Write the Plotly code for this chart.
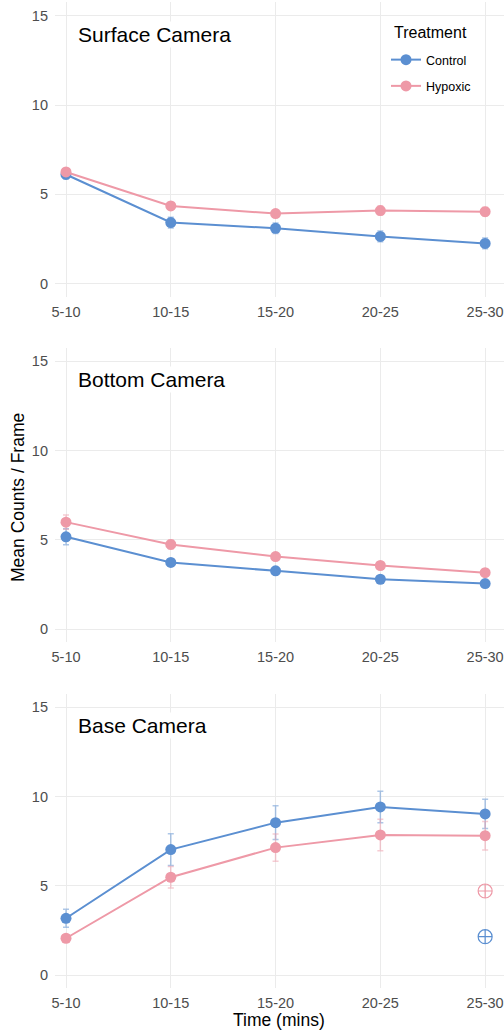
import plotly.graph_objects as go

time_bins = ["5-10", "10-15", "15-20", "20-25", "25-30"]
panels = ["Surface Camera", "Bottom Camera", "Base Camera"]

surface_control = [6.11, 3.42, 3.10, 2.64, 2.25]
surface_control_se = [0.25, 0.3, 0.3, 0.3, 0.3]
surface_hypoxic = [6.25, 4.35, 3.92, 4.09, 4.03]
surface_hypoxic_se = [0.2, 0.2, 0.2, 0.25, 0.25]

bottom_control = [5.17, 3.73, 3.26, 2.79, 2.55]
bottom_control_se = [0.45, 0.2, 0.15, 0.15, 0.15]
bottom_hypoxic = [5.99, 4.74, 4.06, 3.56, 3.16]
bottom_hypoxic_se = [0.4, 0.25, 0.2, 0.2, 0.2]

base_control = [3.18, 7.03, 8.54, 9.42, 9.03]
base_control_se = [0.5, 0.89, 0.95, 0.88, 0.82]
base_hypoxic = [2.06, 5.48, 7.14, 7.85, 7.81]
base_hypoxic_se = [0.15, 0.6, 0.77, 0.88, 0.8]

extra_bin = ["25-30", "25-30"]
extra_values = [2.15, 4.71]

blue = "#5B8FD1"
pink = "#EE99A7"
blue_err = "rgba(91,143,209,0.5)"
pink_err = "rgba(238,153,167,0.5)"

data = [
    (surface_control, surface_control_se, surface_hypoxic, surface_hypoxic_se),
    (bottom_control, bottom_control_se, bottom_hypoxic, bottom_hypoxic_se),
    (base_control, base_control_se, base_hypoxic, base_hypoxic_se),
]

H = 1032.0
W = 449.0
domains = [
    [(H - 297) / H, (H - 2.3) / H],
    [(H - 642.4) / H, (H - 348) / H],
    [(H - 988.4) / H, (H - 694) / H],
]

fig = go.Figure()
font_family = "Liberation Sans, Arial, sans-serif"

for i, (c, cse, h, hse) in enumerate(data):
    xa = "x" if i == 0 else f"x{i+1}"
    ya = "y" if i == 0 else f"y{i+1}"
    fig.add_trace(go.Scatter(
        x=time_bins, y=c, xaxis=xa, yaxis=ya, mode="lines+markers",
        name="Control", legendgroup="Control", showlegend=(i == 0),
        line=dict(color=blue, width=2), marker=dict(color=blue, size=11),
        error_y=dict(type="data", array=cse, color=blue_err, thickness=1.5, width=3),
    ))
    fig.add_trace(go.Scatter(
        x=time_bins, y=h, xaxis=xa, yaxis=ya, mode="lines+markers",
        name="Hypoxic", legendgroup="Hypoxic", showlegend=(i == 0),
        line=dict(color=pink, width=2), marker=dict(color=pink, size=11),
        error_y=dict(type="data", array=hse, color=pink_err, thickness=1.5, width=3),
    ))

fig.add_trace(go.Scatter(
    x=extra_bin, y=extra_values, xaxis="x3", yaxis="y3", mode="markers",
    showlegend=False,
    marker=dict(symbol="circle-cross-open", size=14, color=[blue, pink], line=dict(width=1.2)),
))

axis_common = dict(
    showgrid=True, gridcolor="#EBEBEB", gridwidth=1.2, zeroline=False,
    showline=False, ticks="", tickfont=dict(size=14.5, color="#4D4D4D", family=font_family),
)

layout = dict(
    width=504, height=1032,
    margin=dict(l=55, r=0, t=0, b=0),
    plot_bgcolor="white", paper_bgcolor="white",
    font=dict(family=font_family),
    showlegend=True,
    legend=dict(
        x=(386 - 55) / W, y=(H - 45) / H, xref="paper", yref="paper",
        xanchor="left", yanchor="top", bgcolor="white",
        font=dict(size=12.5, color="black"), tracegroupgap=7,
    ),
)

for i in range(3):
    xk = "xaxis" if i == 0 else f"xaxis{i+1}"
    yk = "yaxis" if i == 0 else f"yaxis{i+1}"
    ya = "y" if i == 0 else f"y{i+1}"
    xa = "x" if i == 0 else f"x{i+1}"
    layout[xk] = dict(axis_common, domain=[0, 1], anchor=ya, type="category",
                      categoryorder="array", categoryarray=time_bins,
                      range=[-0.105, 4.18], ticklabelstandoff=4)
    layout[yk] = dict(axis_common, domain=domains[i], anchor=xa,
                      range=[-0.75, 15.75], tickvals=[0, 5, 10, 15], ticklabelstandoff=6)

fig.update_layout(**layout)

for i, name in enumerate(panels):
    xa = "x" if i == 0 else f"x{i+1}"
    ya = "y" if i == 0 else f"y{i+1}"
    fig.add_annotation(
        text=name, xref=f"{xa} domain", yref=ya, x=(76 - 55) / W, y=13.97,
        xanchor="left", yanchor="middle", showarrow=False, bgcolor="white",
        font=dict(size=21, color="black", family=font_family),
    )

fig.add_annotation(
    text="Treatment", xref="paper", yref="paper",
    x=(392 - 55) / W, y=(H - 32) / H, xanchor="left", yanchor="middle",
    showarrow=False, bgcolor="white",
    font=dict(size=16, color="black", family=font_family),
)

fig.add_annotation(
    text="Mean Counts / Frame", xref="paper", yref="paper",
    x=(18 - 55) / W, y=(H - 498) / H, textangle=-90,
    xanchor="center", yanchor="middle", showarrow=False,
    font=dict(size=17.5, color="black", family=font_family),
)
fig.add_annotation(
    text="Time (mins)", xref="paper", yref="paper",
    x=(279 - 55) / W, y=(H - 1020) / H,
    xanchor="center", yanchor="middle", showarrow=False,
    font=dict(size=17.5, color="black", family=font_family),
)

fig.write_html("out.html", config={"displayModeBar": False},
               post_script="document.body.style.margin='0px';")
